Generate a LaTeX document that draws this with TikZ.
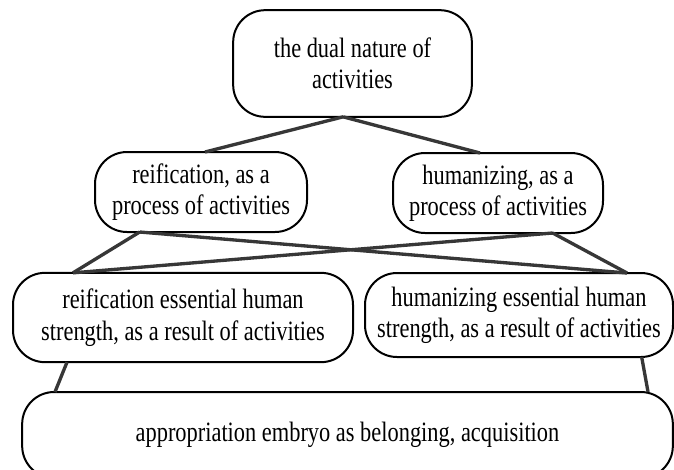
\documentclass[tikz,border=0pt]{standalone}
\usepackage{fontspec}
\setmainfont{Liberation Serif}[FakeStretch = 0.8]
\usepackage{tikz}
\definecolor{mygray}{RGB}{55, 55, 55}
\tikzset{mybox/.style = {draw, line width = 1.5pt, rounded corners = 24pt, align = center, inner sep = 0pt, outer sep = 0pt, font = \fontsize{21}{23.5}\selectfont}}
\tikzset{myline/.style = {mygray, line width = 2.5pt}}

\begin{document}
\begin{tikzpicture}[x = 0.75pt, y = -0.75pt]
\useasboundingbox (0, 0) rectangle (674, 469);
\clip (0, 0) rectangle (674, 469);
\node[mybox, minimum width = 179pt, minimum height = 80pt] (dual) at (352.5, 63.5) {the dual nature of\\ activities};
\node[mybox, minimum width = 159pt, minimum height = 60pt] (reiproc) at (201, 192) {reification, as a\\ process of activities};
\node[mybox, minimum width = 157.5pt, minimum height = 60pt] (humproc) at (498, 193) {humanizing, as a\\ process of activities};
\node[mybox, minimum width = 255pt, minimum height = 67pt] (reiresult) at (183, 317.5) {reification essential human\\ strength, as a result of activities};
\node[mybox, minimum width = 231pt, minimum height = 63pt] (humresult) at (519, 315) {humanizing essential human\\ strength, as a result of activities};
\node[mybox, minimum width = 488pt, minimum height = 64.5pt] (approp) at (347.5, 435) {appropriation embryo as belonging, acquisition};
\draw[myline] ([xshift = -7pt]dual.south) -- ([xshift = 3pt]reiproc.north);
\draw[myline] ([xshift = -7pt]dual.south) -- ([xshift = -13.5pt]humproc.north);
\draw[myline] ([xshift = -46pt]reiproc.south) -- ([xshift = -82.5pt]reiresult.north);
\draw[myline] ([xshift = -46pt]reiproc.south) -- ([xshift = 81pt]humresult.north);
\draw[myline] ([xshift = 41pt]humproc.south) -- ([xshift = -82.5pt]reiresult.north);
\draw[myline] ([xshift = 41pt]humproc.south) -- ([xshift = 81pt]humresult.north);
\draw[myline] ([xshift = -87pt]reiresult.south) -- ([xshift = -219.4pt]approp.north);
\draw[myline] ([xshift = 92pt]humresult.south) -- ([xshift = 225.4pt]approp.north);
\end{tikzpicture}
\end{document}
